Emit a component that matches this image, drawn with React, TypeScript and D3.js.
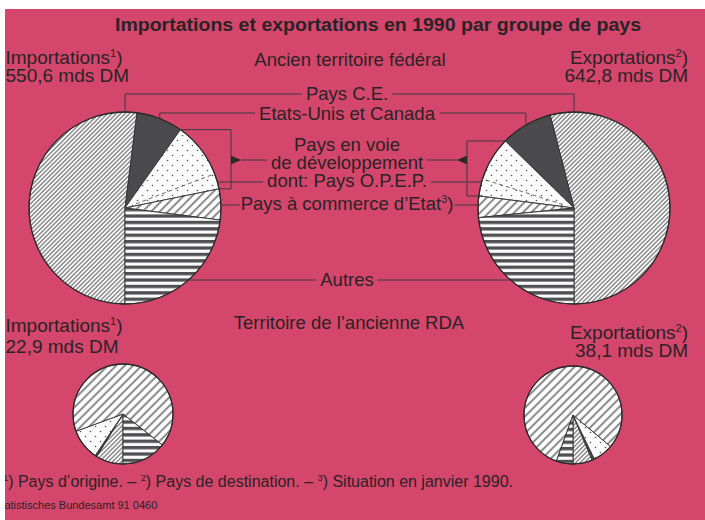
import React, { useEffect, useRef } from "react";
import * as d3 from "d3";

// parts en % par groupe de pays, dans l'ordre des secteurs à partir de 6 h
const groupes = ["Pays C.E.", "Etats-Unis et Canada", "Pays en voie de développement", "Pays à commerce d’Etat", "Autres"];
const importsAncien = [52.0, 7.8, 12.0, 5.2, 23.0];
const exportsAncien = [54.0, 8.7, 10.3, 3.6, 23.4];
const opepAncien = [2.6, 2.9]; // dont: Pays O.P.E.P. (imports, exports)
const importsRDA = [8.8, 0.6, 10.0, 66.2, 14.4];
const exportsRDA = [6.4, 0.8, 6.7, 80.6, 5.5];
const totaux = ["550,6", "642,8", "22,9", "38,1"];

const W = 705;
const H = 520;
const PINK = "#d5466c";
const INK = "#2a2326";
const FONT = "'Liberation Sans', Arial, Helvetica, sans-serif";
const fills = ["url(#fine)", "#4a4a4c", "url(#dots)", "url(#coarse)", "url(#stripes)"];

type PieSpec = { values: number[]; cx: number; cy: number; r: number; dir: number; opep: number | null };

export default function App() {
  const ref = useRef<SVGSVGElement>(null);

  useEffect(() => {
    const svg = d3.select(ref.current);
    svg.selectAll("*").remove();

    const defs = svg.append("defs");
    defs.append("clipPath").attr("id", "frame")
      .append("rect").attr("x", 5).attr("y", 9).attr("width", W - 5).attr("height", H - 9);

    const hatch = (id: string, step: number, sw: number) => {
      const p = defs.append("pattern").attr("id", id).attr("patternUnits", "userSpaceOnUse")
        .attr("width", step).attr("height", step).attr("patternTransform", "rotate(45)");
      p.append("rect").attr("width", step).attr("height", step).attr("fill", "#fbfbfb");
      p.append("line").attr("x1", step / 2).attr("x2", step / 2).attr("y1", 0).attr("y2", step)
        .attr("stroke", "#444").attr("stroke-width", sw);
    };
    hatch("fine", 3.1, 0.9);
    hatch("coarse", 6, 1.2);

    const st = defs.append("pattern").attr("id", "stripes").attr("patternUnits", "userSpaceOnUse")
      .attr("width", 10).attr("height", 6.4);
    st.append("rect").attr("width", 10).attr("height", 6.4).attr("fill", "#fbfbfb");
    st.append("rect").attr("width", 10).attr("height", 3.3).attr("fill", "#505052");

    const dt = defs.append("pattern").attr("id", "dots").attr("patternUnits", "userSpaceOnUse")
      .attr("width", 10).attr("height", 10);
    dt.append("rect").attr("width", 10).attr("height", 10).attr("fill", "#fbfbfb");
    dt.append("circle").attr("cx", 2.5).attr("cy", 2.5).attr("r", 0.8).attr("fill", "#555");
    dt.append("circle").attr("cx", 7.5).attr("cy", 7.5).attr("r", 0.8).attr("fill", "#555");

    const g = svg.append("g").attr("clip-path", "url(#frame)");
    g.append("rect").attr("x", 5).attr("y", 9).attr("width", W - 5).attr("height", H - 9).attr("fill", PINK);

    const pies: PieSpec[] = [
      { values: importsAncien, cx: 125, cy: 208, r: 96, dir: 1, opep: opepAncien[0] },
      { values: exportsAncien, cx: 574, cy: 208, r: 96, dir: -1, opep: opepAncien[1] },
      { values: importsRDA, cx: 123, cy: 414, r: 50, dir: 1, opep: null },
      { values: exportsRDA, cx: 573, cy: 415, r: 49, dir: -1, opep: null },
    ];

    const polar = (p: PieSpec, a: number, rr: number): [number, number] =>
      [p.cx + rr * Math.sin(a), p.cy - rr * Math.cos(a)];

    const allArcs = pies.map(p => {
      const arcs = d3.pie<number>().sort(null).value(d => d)
        .startAngle(Math.PI).endAngle(Math.PI + p.dir * 2 * Math.PI)(p.values);
      const arcGen = d3.arc<d3.PieArcDatum<number>>().innerRadius(0).outerRadius(p.r);
      const gp = g.append("g").attr("transform", `translate(${p.cx},${p.cy})`);
      gp.selectAll("path").data(arcs).join("path")
        .attr("d", arcGen)
        .attr("fill", (d, i) => fills[i])
        .attr("stroke", "#333").attr("stroke-width", 0.9).attr("stroke-linejoin", "round")
        .append("title").text((d, i) => groupes[i]);
      if (p.opep !== null) {
        const a = arcs[2].endAngle - p.dir * (p.opep / 100) * 2 * Math.PI;
        const [x1, y1] = polar(p, a, p.r * 0.12);
        const [x2, y2] = polar(p, a, p.r);
        g.append("line").attr("x1", x1).attr("y1", y1).attr("x2", x2).attr("y2", y2)
          .attr("stroke", "#444").attr("stroke-width", 0.8).attr("stroke-dasharray", "4,3");
      }
      gp.append("circle").attr("r", p.r).attr("fill", "none").attr("stroke", "#2a2a2a").attr("stroke-width", 1.3);
      return arcs;
    });

    // textes
    const text = (x: number, y: number, anchor: string, size: number, parts: [string, boolean][], weight = "normal") => {
      const t = g.append("text").attr("x", x).attr("y", y).attr("text-anchor", anchor)
        .attr("font-family", FONT).attr("font-size", size).attr("font-weight", weight).attr("fill", INK);
      let up = false;
      parts.forEach(([s, sup]) => {
        const ts = t.append("tspan").text(s);
        if (sup && !up) { ts.attr("dy", -size * 0.38).attr("font-size", size * 0.58); up = true; }
        else if (!sup && up) { ts.attr("dy", size * 0.38); up = false; }
        else if (sup) ts.attr("font-size", size * 0.58);
      });
      return t;
    };

    text(378, 31, "middle", 18, [["Importations et exportations en 1990 par groupe de pays", false]], "bold")
      .attr("textLength", 526).attr("lengthAdjust", "spacingAndGlyphs");

    text(5.5, 64, "start", 19, [["Importations", false], ["1", true], [")", false]]);
    text(5.5, 82, "start", 19, [[`${totaux[0]} mds DM`, false]]);
    text(350, 66, "middle", 18.5, [["Ancien territoire fédéral", false]]);
    text(688, 64, "end", 19, [["Exportations", false], ["2", true], [")", false]]);
    text(688, 82, "end", 19, [[`${totaux[1]} mds DM`, false]]);

    text(5.5, 332, "start", 19, [["Importations", false], ["1", true], [")", false]]);
    text(5.5, 353, "start", 19, [[`${totaux[2]} mds DM`, false]]);
    text(349, 329, "middle", 18.5, [["Territoire de l’ancienne RDA", false]]);
    text(688, 339, "end", 19, [["Exportations", false], ["2", true], [")", false]]);
    text(688, 357, "end", 19, [[`${totaux[3]} mds DM`, false]]);

    text(3, 487, "start", 16, [["1", true], [") Pays d’origine. – ", false], ["2", true],
      [") Pays de destination. – ", false], ["3", true], [") Situation en janvier 1990.", false]]);
    text(-6, 509, "start", 11, [["Statistisches Bundesamt 91 0460", false]]);

    // étiquettes centrales et traits de rappel
    const L = pies[0], R = pies[1];
    const aL = allArcs[0], aR = allArcs[1];
    const lx = 347;
    const line = (d: string) => g.append("path").attr("d", d).attr("fill", "none")
      .attr("stroke", "#3a3a3a").attr("stroke-width", 1);
    const edgeL = (y: number) => L.cx + Math.sqrt(Math.max(0, L.r * L.r - (y - L.cy) ** 2));
    const edgeR = (y: number) => R.cx - Math.sqrt(Math.max(0, R.r * R.r - (y - R.cy) ** 2));
    const box = (t: d3.Selection<SVGTextElement, unknown, null, undefined>) => t.node()!.getBBox();
    const gap = 4;

    // Pays C.E.
    let b = box(text(lx, 100, "middle", 18.5, [[groupes[0], false]]));
    line(`M${L.cx},${L.cy - L.r}V94H${b.x - gap}`);
    line(`M${b.x + b.width + gap},94H${R.cx}V${R.cy - R.r}`);

    // Etats-Unis et Canada
    b = box(text(lx, 120, "middle", 18.5, [[groupes[1], false]]));
    const mid = (d: d3.PieArcDatum<number>) => (d.startAngle + d.endAngle) / 2;
    const uL = polar(L, mid(aL[1]), L.r), uR = polar(R, mid(aR[1]), R.r);
    line(`M${uL[0]},${uL[1]}V113H${b.x - gap}`);
    line(`M${b.x + b.width + gap},113H${uR[0]}V${uR[1]}`);

    // Pays en voie de développement
    text(lx, 151, "middle", 18.5, [["Pays en voie", false]]);
    b = box(text(lx, 169, "middle", 18.5, [["de développement", false]]));
    const ty = 160;
    const bxL = L.cx + 106, bxR = R.cx - 107;
    const sL = polar(L, aL[2].startAngle, L.r), eL = polar(L, aL[2].endAngle, L.r);
    const sR = polar(R, aR[2].startAngle, R.r), eR = polar(R, aR[2].endAngle, R.r);
    line(`M${sL[0]},${sL[1]}H${bxL}V${eL[1]}H${eL[0]}`);
    line(`M${sR[0]},${sR[1]}H${bxR}V${eR[1]}H${eR[0]}`);
    g.append("path").attr("d", `M${bxL},${ty - 4.5}L${bxL + 10},${ty}L${bxL},${ty + 4.5}Z`).attr("fill", "#2a2a2a");
    g.append("path").attr("d", `M${bxR},${ty - 4.5}L${bxR - 10},${ty}L${bxR},${ty + 4.5}Z`).attr("fill", "#2a2a2a");
    line(`M${bxL + 10},${ty}H${b.x - gap}`);
    line(`M${b.x + b.width + gap},${ty}H${bxR - 10}`);

    // dont: Pays O.P.E.P.
    b = box(text(lx, 187, "middle", 18.5, [["dont: Pays O.P.E.P.", false]]));
    line(`M${edgeL(182)},182H${b.x - gap}`);
    line(`M${b.x + b.width + gap},182H${edgeR(182)}`);

    // Pays à commerce d'Etat
    b = box(text(lx, 210, "middle", 18.5, [[groupes[3], false], ["3", true], [")", false]]));
    line(`M${edgeL(205)},205H${b.x - 1}`);
    line(`M${b.x + b.width + 1},205H${edgeR(205)}`);

    // Autres
    b = box(text(lx, 286, "middle", 18.5, [[groupes[4], false]]));
    line(`M${edgeL(280)},280H${b.x - gap}`);
    line(`M${b.x + b.width + gap},280H${edgeR(280)}`);
  }, []);

  return (
    <svg ref={ref} width={W} height={H}
      style={{ position: "absolute", left: 0, top: 0, display: "block", background: "#fff" }} />
  );
}
